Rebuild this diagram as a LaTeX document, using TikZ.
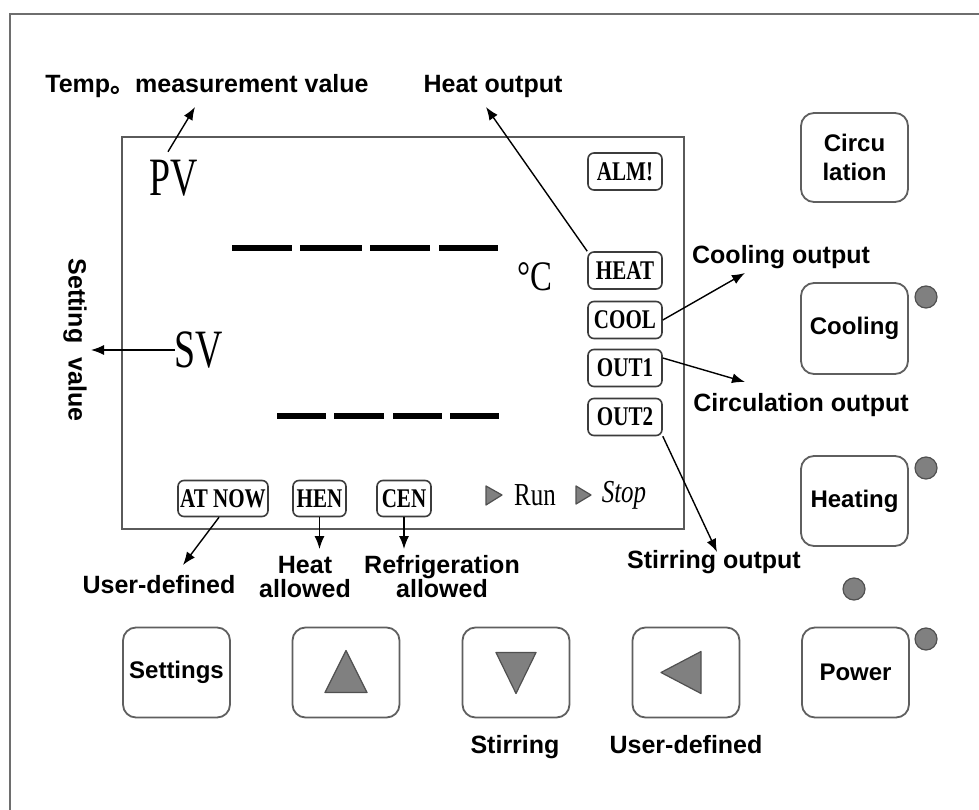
\documentclass[tikz,border=0pt]{standalone}
\usepackage{fontspec}
\setmainfont{Liberation Sans}
\newfontfamily\lcdfont{Liberation Serif}[FakeStretch=0.78]
\newfontfamily\lcdbigfont{Liberation Serif}[FakeStretch=0.7]
\newfontfamily\cjkfont{Noto Sans CJK SC}
\usetikzlibrary{positioning,arrows.meta}
\definecolor{frameColor}{RGB}{110, 110, 110}
\definecolor{lcdColor}{RGB}{90, 90, 90}
\definecolor{tagColor}{RGB}{60, 60, 60}
\definecolor{buttonColor}{RGB}{95, 95, 95}
\definecolor{ledColor}{RGB}{128, 128, 128}
\definecolor{ledEdgeColor}{RGB}{80, 80, 80}

\begin{document}
\begin{tikzpicture}[x=1pt,y=-1pt,
		% Define styles for nodes
		callout/.style={
				inner sep=0pt,
				align=center,
				font=\fontsize{25}{24}\selectfont\bfseries
			},
		lcdtag/.style={
				draw=tagColor,
				line width=1.6pt,
				rounded corners=6pt,
				minimum width=74pt,
				minimum height=37pt,
				inner sep=0pt,
				font=\fontsize{27}{27}\lcdfont\bfseries
			},
		lcdbig/.style={
				inner sep=0pt,
				font=\fontsize{54}{54}\lcdbigfont
			},
		lcdsmall/.style={
				inner sep=0pt,
				font=\fontsize{32}{32}\lcdfont
			},
		keybtn/.style={
				draw=buttonColor,
				line width=1.8pt,
				rounded corners=13pt,
				minimum width=107pt,
				minimum height=90pt,
				inner sep=0pt,
				align=center,
				font=\fontsize{24}{29}\selectfont\bfseries
			},
		led/.style={
				circle,
				draw=ledEdgeColor,
				fill=ledColor,
				line width=1.2pt,
				minimum size=22pt,
				inner sep=0pt
			},
		keytri/.style={
				draw=ledEdgeColor,
				fill=ledColor,
				line width=1.2pt,
				line join=round
			},
		segment/.style={
				line width=6pt
			},
		arrow/.style={
				->,
				>={Latex[length=13pt,width=10pt]},
				line width=1.4pt
			}
	]

	% Page and outer frame
	\useasboundingbox[fill=white] (0,0) rectangle (979,810);
	\draw[frameColor, line width=2pt] (10,810) -- (10,14) -- (979,14);

	% LCD window
	\node[draw=lcdColor, line width=1.6pt, minimum width=562pt, minimum height=392pt, inner sep=0pt] (lcd) at (403,333) {};

	\node[lcdbig] (pvText) at (174,178) {PV};
	\node[lcdbig] (svText) at (199,350) {SV};
	\node[inner sep=0pt, font=\fontsize{42}{42}\lcdfont] (degText) at (535,277) {°C};

	% Digit segments
	\foreach \xa/\xb in {232/292, 300/362, 370/430, 439/498}
		\draw[segment] (\xa,248) -- (\xb,248);
	\foreach \xa/\xb in {277/326, 334/384, 393/442, 450/499}
		\draw[segment] (\xa,416) -- (\xb,416);

	% Indicator tags
	\node[lcdtag] (almBox) at (625,171.5) {ALM!};
	\node[lcdtag] (heatBox) at (625,270.5) {HEAT};
	\node[lcdtag] (coolBox) at (625,320) {COOL};
	\node[lcdtag] (out1Box) at (625,368) {OUT1};
	\node[lcdtag] (out2Box) at (625,417) {OUT2};
	\node[lcdtag, minimum width=90pt, minimum height=36pt] (atnowBox) at (223,498.5) {AT NOW};
	\node[lcdtag, minimum width=53pt, minimum height=36pt] (henBox) at (319.5,498.5) {HEN};
	\node[lcdtag, minimum width=54pt, minimum height=36pt] (cenBox) at (404,498.5) {CEN};

	% Run / Stop
	\draw[keytri] (486,486) -- (502,495) -- (486,505) -- cycle;
	\node[lcdsmall] (runText) at (535,495) {Run};
	\draw[keytri] (576,486) -- (591,495) -- (576,504) -- cycle;
	\node[lcdsmall] (stopText) at (624,495) {\itshape Stop};

	% Callout texts
	\node[callout] (tempLabel) at (207,86) {Temp{\cjkfont 。}measurement value};
	\node[callout] (heatOutLabel) at (493,86) {Heat output};
	\node[callout] (coolOutLabel) at (781,257) {Cooling output};
	\node[callout] (circOutLabel) at (801,405) {Circulation output};
	\node[callout] (stirOutLabel) at (714,562) {Stirring output};
	\node[callout, rotate=-90] (setValLabel) at (75,340) {Setting\ \ value};
	\node[callout] (userDefLabel) at (159,585) {User-defined};
	\node[callout] (heatAllowLabel) at (305,577) {Heat\\allowed};
	\node[callout] (refAllowLabel) at (442,577) {Refrigeration\\allowed};

	% Keys
	\node[keybtn, minimum height=89pt] (circBtn) at (854.5,157.5) {Circu\\lation};
	\node[keybtn, minimum height=91pt] (coolBtn) at (854.5,328.5) {Cooling};
	\node[keybtn] (heatBtn) at (854.5,501) {Heating};
	\node[keybtn] (setBtn) at (176.5,672.5) {Settings};
	\node[keybtn] (upBtn) at (346,672.5) {};
	\node[keybtn] (downBtn) at (516,672.5) {};
	\node[keybtn] (leftBtn) at (686,672.5) {};
	\node[keybtn] (powerBtn) at (855.5,672.5) {Power};

	\draw[keytri] ([shift={(0,-22)}]upBtn.center) -- ([shift={(21,20)}]upBtn.center) -- ([shift={(-21,20)}]upBtn.center) -- cycle;
	\draw[keytri] ([shift={(-20,-20)}]downBtn.center) -- ([shift={(20,-20)}]downBtn.center) -- ([shift={(0,21)}]downBtn.center) -- cycle;
	\draw[keytri] ([shift={(-25,0)}]leftBtn.center) -- ([shift={(15,-21)}]leftBtn.center) -- ([shift={(15,21)}]leftBtn.center) -- cycle;

	\node[callout] (stirLabel) at (515,747) {Stirring};
	\node[callout] (userDef2Label) at (686,745) {User-defined};

	% Lamps
	\node[led] (coolLed) at (926,297) {};
	\node[led] (heatLed) at (926,468) {};
	\node[led] (midLed) at (854,589) {};
	\node[led] (powerLed) at (926,639) {};

	% ARROWS
	\coordinate (pvTip) at (195,107);
	\coordinate (heatTip) at (486,107);
	\coordinate (coolTip) at (745,273);
	\coordinate (out1Tip) at (745,382);
	\coordinate (out2Tip) at (717,552);
	\coordinate (svTip) at (91,350);
	\coordinate (atTip) at (183,565);
	\coordinate (henTip) at (319.5,549);
	\coordinate (cenTip) at (404,549);

	\draw[arrow] ([xshift=-6pt,yshift=8pt]pvText.north) -- (pvTip);
	\draw[arrow] (heatBox.north west) -- (heatTip);
	\draw[arrow] (coolBox.east) -- (coolTip);
	\draw[arrow] ([yshift=10pt]out1Box.east) -- (out1Tip);
	\draw[arrow] (out2Box.south east) -- (out2Tip);
	\draw[arrow] (svText.west) -- (svTip);
	\draw[arrow] ([xshift=-4pt]atnowBox.south) -- (atTip);
	\draw[arrow] (henBox.south) -- (henTip);
	\draw[arrow] (cenBox.south) -- (cenTip);

\end{tikzpicture}
\end{document}
